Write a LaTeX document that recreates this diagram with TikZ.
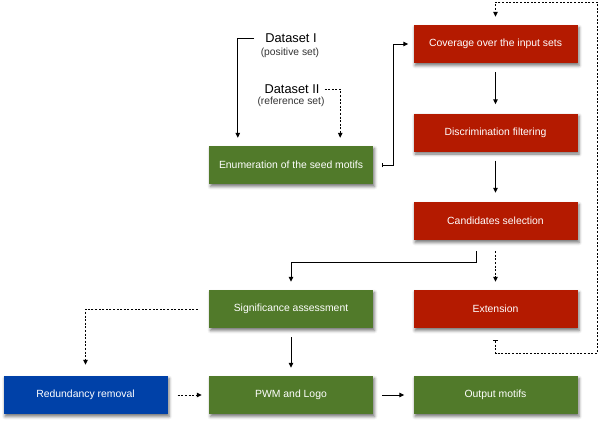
\documentclass[tikz,border=0pt]{standalone}
\usepackage{fontspec}
\setmainfont{Liberation Sans}
\usetikzlibrary{arrows.meta,shadows.blur}
\definecolor{mgreen}{RGB}{81,122,42}
\definecolor{mred}{RGB}{180,26,0}
\definecolor{mblue}{RGB}{0,65,168}
\begin{document}
\begin{tikzpicture}[x=1pt,y=-1pt,
  box/.style={minimum width=164pt,minimum height=38pt,inner sep=0pt,text=white,
    font=\fontsize{10.4}{12}\selectfont,
    blur shadow={shadow xshift=1.5pt,shadow yshift=-2.5pt,shadow blur radius=3pt,shadow opacity=55}},
  gbox/.style={box,fill=mgreen},
  rbox/.style={box,fill=mred},
  bbox/.style={box,fill=mblue},
  big/.style={inner sep=0pt,font=\fontsize{12.8}{14}\selectfont},
  small/.style={inner sep=0pt,font=\fontsize{10.3}{12}\selectfont,text=black!80},
  conn/.style={line width=1pt,-{Triangle[length=5pt,width=4.5pt]}},
  dconn/.style={conn,dash pattern=on 2pt off 1.6pt},
  barconn/.style={line width=1pt,{Bar[width=4.5pt,line width=1pt]}-{Triangle[length=5pt,width=4.5pt]}},
  dbarconn/.style={barconn,dash pattern=on 2pt off 1.6pt}
]
\useasboundingbox (0,0) rectangle (600,424);

\node[rbox] (cov) at (495.5,44) {Coverage over the input sets};
\node[rbox] (dis) at (495.5,132.5) {Discrimination filtering};
\node[rbox] (cand) at (495.5,221) {Candidates selection};
\node[rbox] (ext) at (495.5,309) {Extension};
\node[gbox] (sig) at (291,309) {Significance assessment};
\node[gbox] (enum) at (291,165) {Enumeration of the seed motifs};
\node[bbox] (red) at (85.5,395) {Redundancy removal};
\node[gbox] (pwm) at (291,395) {PWM and Logo};
\node[gbox] (out) at (495.5,395) {Output motifs};

\node[big] (ds1) at (291,38) {Dataset I};
\node[small] (ps1) at (290,53) {(positive set)};
\node[big] (ds2) at (292,89) {Dataset II};
\node[small] (ps2) at (291,102) {(reference set)};

\coordinate (rc) at (597,2);

\draw[conn] ([xshift=-11pt]ds1.west) -| ([xshift=29pt,yshift=8pt]enum.north west);
\draw[dconn] ([xshift=5pt]ds2.east) -| ([xshift=-33pt,yshift=8pt]enum.north east);
\draw[barconn] ([xshift=9pt]enum.east) -- ++(11,0) |- ([xshift=-5pt]cov.west);
\draw[conn] ([yshift=-9pt]cov.south) -- ([yshift=9pt]dis.north);
\draw[conn] ([yshift=-9pt]dis.south) -- ([yshift=9pt]cand.north);
\draw[conn] ([xshift=-19.5pt,yshift=-11pt]cand.south) -- ++(0,11) -| ([yshift=8pt]sig.north);
\draw[dconn] ([yshift=-11pt]cand.south) -- ([yshift=8pt]ext.north);
\draw[conn] ([yshift=-9pt]sig.south) -- ([yshift=8pt]pwm.north);
\draw[dconn] ([xshift=-11pt]sig.west) -| ([yshift=11pt]red.north);
\draw[dconn] ([xshift=10pt]red.east) -- ([xshift=-7pt]pwm.west);
\draw[conn] ([xshift=9pt]pwm.east) -- ([xshift=-9pt]out.west);
\draw[dbarconn] ([yshift=-12pt]ext.south) -- ++(0,13) -| (rc) -| ([yshift=8pt]cov.north);
\end{tikzpicture}
\end{document}
